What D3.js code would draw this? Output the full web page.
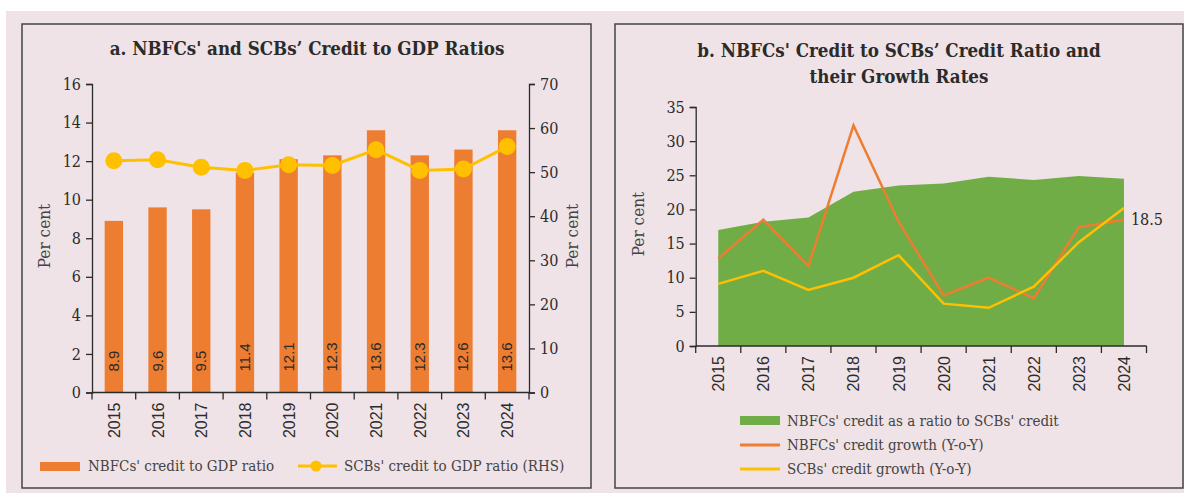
<!DOCTYPE html>
<html>
<head>
<meta charset="utf-8">
<script src="https://cdn.jsdelivr.net/npm/d3@7"></script>
<style>
  body { margin: 0; background: #fff; }
  .serif { font-family: "DejaVu Serif", serif; font-stretch: condensed; }
  .sans { font-family: "Liberation Sans", Arial, sans-serif; }
</style>
</head>
<body>
<div id="chart"></div>
<script>
var years = ["2015", "2016", "2017", "2018", "2019", "2020", "2021", "2022", "2023", "2024"];

// panel a
var nbfcGdp = [8.9, 9.6, 9.5, 11.4, 12.1, 12.3, 13.6, 12.3, 12.6, 13.6];
var scbGdp = [52.6, 52.8, 51.1, 50.4, 51.7, 51.5, 55.1, 50.4, 50.7, 55.8];
var leftTicks = [0, 2, 4, 6, 8, 10, 12, 14, 16];
var rightTicks = [0, 10, 20, 30, 40, 50, 60, 70];

// panel b
var ratioToScb = [17.0, 18.2, 18.8, 22.6, 23.5, 23.8, 24.8, 24.3, 24.9, 24.5];
var nbfcGrowth = [12.8, 18.5, 11.7, 32.3, 18.2, 7.4, 10.0, 7.0, 17.4, 18.5];
var scbGrowth = [9.1, 11.0, 8.2, 10.0, 13.3, 6.2, 5.6, 8.7, 15.2, 20.2];
var bTicks = [0, 5, 10, 15, 20, 25, 30, 35];

var orange = "#ED7D31", yellow = "#FFC000", green = "#70AD47", ink = "#2b2b2b";

var svg = d3.select("#chart").append("svg")
  .attr("width", 1184)
  .attr("height", 493);

svg.append("rect").attr("x", 6).attr("y", 11).attr("width", 1178).attr("height", 482)
  .attr("fill", "#EFE3E7");

// panel frames
svg.append("rect").attr("x", 22).attr("y", 24).attr("width", 569).attr("height", 464)
  .attr("fill", "none").attr("stroke", "#444").attr("stroke-width", 1.5);
svg.append("rect").attr("x", 615).attr("y", 24).attr("width", 568).attr("height", 464)
  .attr("fill", "none").attr("stroke", "#444").attr("stroke-width", 1.5);

function styleAxis(g) {
  g.selectAll(".domain").attr("stroke", ink).attr("stroke-width", 1.3);
  g.selectAll(".tick line").attr("stroke", ink).attr("stroke-width", 1.3);
  g.selectAll(".tick text").attr("fill", ink).attr("class", "serif").style("font-size", "16px");
}

function yearTicks(g, x, y0) {
  // tick marks sit between the categories
  var start = x.range()[0], step = x.step();
  g.selectAll(".sep")
    .data(d3.range(years.length + 1))
    .enter().append("line")
    .attr("x1", function(i) { return start + i * step; })
    .attr("x2", function(i) { return start + i * step; })
    .attr("y1", y0).attr("y2", y0 + 7)
    .attr("stroke", ink).attr("stroke-width", 1.3);
  g.selectAll(".yr")
    .data(years)
    .enter().append("text")
    .attr("class", "sans")
    .attr("transform", function(d) {
      return "translate(" + (x(d) + x.bandwidth() / 2 + 6) + "," + (y0 + 10) + ") rotate(-90)";
    })
    .attr("text-anchor", "end")
    .style("font-size", "16px")
    .attr("fill", ink)
    .text(function(d) { return d; });
}

/* ---------- panel a ---------- */
var a = svg.append("g");

a.append("text").attr("class", "serif")
  .attr("x", 307).attr("y", 55)
  .attr("text-anchor", "middle")
  .style("font-size", "18.6px").style("font-weight", "bold")
  .attr("fill", ink)
  .text("a. NBFCs' and SCBs\u2019 Credit to GDP Ratios");

var xa = d3.scaleBand().domain(years).range([92, 529]).paddingInner(0.58).paddingOuter(0.29);
var ya = d3.scaleLinear().domain([0, 16]).range([392.5, 84]);
var yr = d3.scaleLinear().domain([0, 70]).range([392.5, 84]);

a.selectAll(".bar")
  .data(nbfcGdp)
  .enter().append("rect")
  .attr("class", "bar")
  .attr("x", function(d, i) { return xa(years[i]); })
  .attr("width", xa.bandwidth())
  .attr("y", function(d) { return ya(d); })
  .attr("height", function(d) { return ya(0) - ya(d); })
  .attr("fill", orange);

a.selectAll(".bar-label")
  .data(nbfcGdp)
  .enter().append("text")
  .attr("class", "sans")
  .attr("transform", function(d, i) {
    return "translate(" + (xa(years[i]) + xa.bandwidth() / 2 + 5) + "," + (ya(0) - 21) + ") rotate(-90)";
  })
  .style("font-size", "15px")
  .attr("fill", ink)
  .text(function(d) { return d3.format(".1f")(d); });

var scbLine = d3.line()
  .x(function(d, i) { return xa(years[i]) + xa.bandwidth() / 2; })
  .y(function(d) { return yr(d); });

a.append("path").datum(scbGdp)
  .attr("d", scbLine)
  .attr("fill", "none").attr("stroke", yellow).attr("stroke-width", 3);

a.selectAll(".dot")
  .data(scbGdp)
  .enter().append("circle")
  .attr("cx", function(d, i) { return xa(years[i]) + xa.bandwidth() / 2; })
  .attr("cy", function(d) { return yr(d); })
  .attr("r", 8.5)
  .attr("fill", yellow);

a.append("g").attr("transform", "translate(92,0)")
  .call(d3.axisLeft(ya).tickValues(leftTicks).tickSize(6).tickPadding(5))
  .call(styleAxis);
a.append("g").attr("transform", "translate(529,0)")
  .call(d3.axisRight(yr).tickValues(rightTicks).tickSize(6).tickPadding(5))
  .call(styleAxis);
a.append("line").attr("x1", 92).attr("x2", 529).attr("y1", 392.5).attr("y2", 392.5)
  .attr("stroke", ink).attr("stroke-width", 1.3);
yearTicks(a, xa, 392.5);

a.append("text").attr("class", "serif")
  .attr("transform", "translate(50,236) rotate(-90)")
  .attr("text-anchor", "middle").style("font-size", "17px").attr("fill", "#444")
  .text("Per cent");
a.append("text").attr("class", "serif")
  .attr("transform", "translate(578,236) rotate(-90)")
  .attr("text-anchor", "middle").style("font-size", "17px").attr("fill", "#444")
  .text("Per cent");

// legend a
a.append("rect").attr("x", 40).attr("y", 462).attr("width", 40).attr("height", 9).attr("fill", orange);
a.append("text").attr("class", "serif").attr("x", 88).attr("y", 471)
  .style("font-size", "15px").attr("fill", "#444").text("NBFCs' credit to GDP ratio");
a.append("line").attr("x1", 298).attr("x2", 337).attr("y1", 466).attr("y2", 466)
  .attr("stroke", yellow).attr("stroke-width", 3);
a.append("circle").attr("cx", 316).attr("cy", 466).attr("r", 5.5).attr("fill", yellow);
a.append("text").attr("class", "serif").attr("x", 344).attr("y", 471)
  .style("font-size", "15px").attr("fill", "#444").text("SCBs' credit to GDP ratio (RHS)");

/* ---------- panel b ---------- */
var b = svg.append("g");

b.append("text").attr("class", "serif")
  .attr("x", 899).attr("y", 57)
  .attr("text-anchor", "middle")
  .style("font-size", "18.6px").style("font-weight", "bold")
  .attr("fill", ink)
  .text("b. NBFCs' Credit to SCBs\u2019 Credit Ratio and");
b.append("text").attr("class", "serif")
  .attr("x", 899).attr("y", 83)
  .attr("text-anchor", "middle")
  .style("font-size", "18.6px").style("font-weight", "bold")
  .attr("fill", ink)
  .text("their Growth Rates");

var xb = d3.scaleBand().domain(years).range([695.7, 1146.5]);
var yb = d3.scaleLinear().domain([0, 35]).range([346, 107]);
var cx = function(d, i) { return xb(years[i]) + xb.bandwidth() / 2; };

b.append("path").datum(ratioToScb)
  .attr("d", d3.area().x(cx).y0(yb(0)).y1(function(d) { return yb(d); }))
  .attr("fill", green);

var lineB = d3.line().x(cx).y(function(d) { return yb(d); });
b.append("path").datum(nbfcGrowth).attr("d", lineB)
  .attr("fill", "none").attr("stroke", orange).attr("stroke-width", 2.5);
b.append("path").datum(scbGrowth).attr("d", lineB)
  .attr("fill", "none").attr("stroke", yellow).attr("stroke-width", 2.5);

var last = nbfcGrowth.length - 1;
b.append("text").attr("class", "serif")
  .attr("x", cx(0, last) + 7).attr("y", yb(nbfcGrowth[last]) + 5)
  .style("font-size", "16px").attr("fill", ink)
  .text(d3.format(".1f")(nbfcGrowth[last]));

b.append("g").attr("transform", "translate(695.7,0)")
  .call(d3.axisLeft(yb).tickValues(bTicks).tickSize(6).tickPadding(5))
  .call(styleAxis);
b.append("line").attr("x1", 695.7).attr("x2", 1146.5).attr("y1", 346).attr("y2", 346)
  .attr("stroke", ink).attr("stroke-width", 1.3);
yearTicks(b, xb, 346);

b.append("text").attr("class", "serif")
  .attr("transform", "translate(644,224) rotate(-90)")
  .attr("text-anchor", "middle").style("font-size", "17px").attr("fill", "#444")
  .text("Per cent");

// legend b
var legB = [
  { label: "NBFCs' credit as a ratio to SCBs' credit", color: green, type: "area" },
  { label: "NBFCs' credit growth (Y-o-Y)", color: orange, type: "line" },
  { label: "SCBs' credit growth (Y-o-Y)", color: yellow, type: "line" }
];
var lg = b.selectAll(".leg").data(legB).enter().append("g")
  .attr("transform", function(d, i) { return "translate(740," + (421 + i * 24) + ")"; });
lg.filter(function(d) { return d.type === "area"; }).append("rect")
  .attr("x", 0).attr("y", -5).attr("width", 40).attr("height", 9).attr("fill", function(d) { return d.color; });
lg.filter(function(d) { return d.type === "line"; }).append("line")
  .attr("x1", 0).attr("x2", 40).attr("y1", 0).attr("y2", 0)
  .attr("stroke", function(d) { return d.color; }).attr("stroke-width", 3);
lg.append("text").attr("class", "serif").attr("x", 47).attr("y", 5)
  .style("font-size", "15px").attr("fill", "#444").text(function(d) { return d.label; });
</script>
</body>
</html>
